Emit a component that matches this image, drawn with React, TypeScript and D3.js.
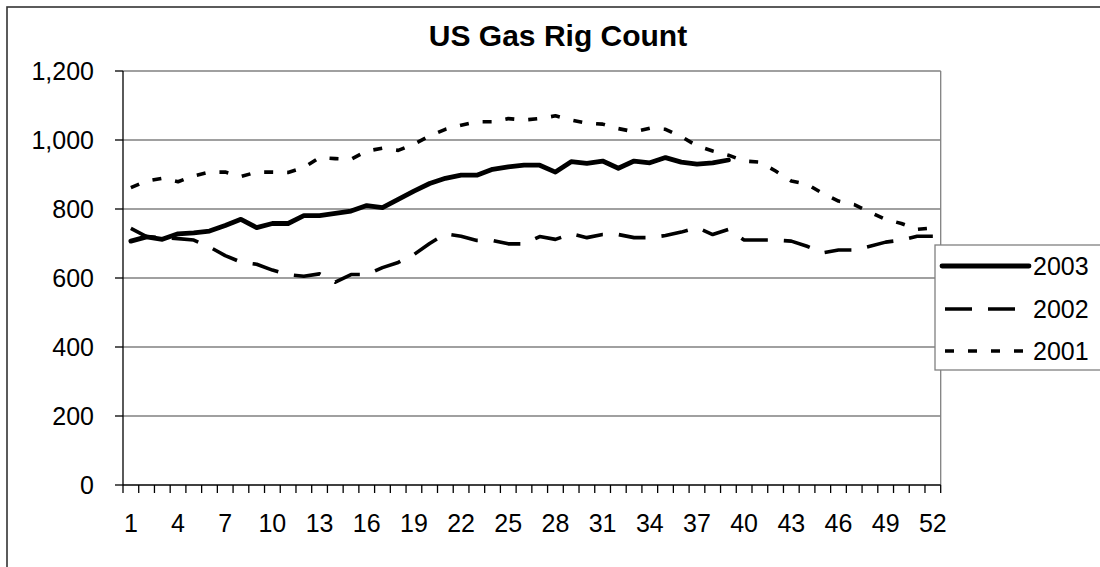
import React, { useEffect, useRef } from "react";
import * as d3 from "d3";

const weeks: number[] = d3.range(1, 53);
const yTicks = [0, 200, 400, 600, 800, 1000, 1200];
const xLabelWeeks = [1, 4, 7, 10, 13, 16, 19, 22, 25, 28, 31, 34, 37, 40, 43, 46, 49, 52];

const gas2003 = [
  707, 719, 712, 728, 731, 736, 752, 770, 746, 758, 758, 781, 781, 787, 794, 810, 804,
  828, 852, 874, 889, 898, 898, 915, 922, 927, 927, 907, 937, 932, 939, 918, 939, 934,
  949, 936, 930, 934, 942,
];
const gas2002 = [
  744, 720, 717, 714, 710, 690, 665, 646, 640, 623, 610, 605, 612, 588, 610, 610, 630,
  645, 668, 700, 728, 721, 709, 709, 699, 699, 720, 712, 728, 717, 726, 726, 717, 717,
  723, 733, 746, 726, 741, 710, 710, 710, 707, 692, 673, 681, 681, 692, 704, 710, 721, 721,
];
const gas2001 = [
  862, 881, 889, 879, 896, 907, 907, 894, 907, 907, 906, 920, 949, 946, 944, 968, 976,
  970, 988, 1012, 1031, 1043, 1053, 1053, 1062, 1058, 1062, 1070, 1058, 1049, 1046, 1033,
  1024, 1034, 1031, 1010, 983, 968, 956, 939, 936, 910, 881, 872, 845, 823, 813, 791, 770,
  758, 741, 745,
];

const seriesNames = ["2003", "2002", "2001"];

export default function App() {
  const ref = useRef<SVGSVGElement>(null);

  useEffect(() => {
    const svg = d3.select(ref.current);
    svg.selectAll("*").remove();
    const font = "'Liberation Sans', Arial, sans-serif";

    const left = 123, right = 940.7, top = 71, bottom = 485;

    const x = d3.scaleBand<number>().domain(weeks).range([left, right]);
    const y = d3.scaleLinear().domain([0, 1200]).range([bottom, top]);
    const cx = (w: number) => (x(w) as number) + x.bandwidth() / 2;

    svg.append("rect").attr("width", 1100).attr("height", 567).attr("fill", "#fff");
    // chart frame
    svg.append("rect")
      .attr("x", 7).attr("y", 7).attr("width", 1120).attr("height", 600)
      .attr("fill", "none").attr("stroke", "#333").attr("stroke-width", 1.6);

    svg.append("text")
      .attr("x", 558).attr("y", 46)
      .attr("text-anchor", "middle")
      .attr("font-family", font).attr("font-weight", "bold").attr("font-size", 30)
      .text("US Gas Rig Count");

    // gridlines
    svg.append("g").selectAll("line")
      .data(yTicks.filter((t) => t > 0))
      .join("line")
      .attr("x1", left).attr("x2", right)
      .attr("y1", (d) => y(d)).attr("y2", (d) => y(d))
      .attr("stroke", "#808080").attr("stroke-width", 1.3);
    svg.append("line")
      .attr("x1", right).attr("x2", right).attr("y1", top).attr("y2", bottom)
      .attr("stroke", "#808080").attr("stroke-width", 1.3);

    // y axis
    svg.append("line")
      .attr("x1", left).attr("x2", left).attr("y1", top).attr("y2", bottom)
      .attr("stroke", "#000").attr("stroke-width", 1.3);
    svg.append("g").selectAll("line")
      .data(yTicks).join("line")
      .attr("x1", left - 8).attr("x2", left)
      .attr("y1", (d) => y(d)).attr("y2", (d) => y(d))
      .attr("stroke", "#000").attr("stroke-width", 1.3);
    svg.append("g").selectAll("text")
      .data(yTicks).join("text")
      .attr("x", 94).attr("y", (d) => y(d))
      .attr("dy", "0.35em")
      .attr("text-anchor", "end")
      .attr("font-family", font).attr("font-size", 25)
      .text((d) => d3.format(",")(d));

    // x axis
    svg.append("line")
      .attr("x1", left).attr("x2", right).attr("y1", bottom).attr("y2", bottom)
      .attr("stroke", "#000").attr("stroke-width", 1.3);
    const bounds = weeks.map((w) => x(w) as number).concat([right]);
    svg.append("g").selectAll("line")
      .data(bounds).join("line")
      .attr("x1", (d) => d).attr("x2", (d) => d)
      .attr("y1", bottom).attr("y2", bottom + 8)
      .attr("stroke", "#000").attr("stroke-width", 1.3);
    svg.append("g").selectAll("text")
      .data(xLabelWeeks).join("text")
      .attr("x", (d) => cx(d)).attr("y", 532)
      .attr("text-anchor", "middle")
      .attr("font-family", font).attr("font-size", 25)
      .text((d) => d);

    const line = d3.line<number>()
      .x((_, i) => cx(weeks[i]))
      .y((d) => y(d));

    const styles = [
      { data: gas2003, width: 4.8, dash: null },
      { data: gas2002, width: 3.6, dash: "27,16" },
      { data: gas2001, width: 3.6, dash: "9,14" },
    ];

    styles.slice().reverse().forEach((s) => {
      svg.append("path")
        .datum(s.data)
        .attr("fill", "none")
        .attr("stroke", "#000")
        .attr("stroke-width", s.width)
        .attr("stroke-linejoin", "round")
        .attr("stroke-linecap", s.dash ? "butt" : "round")
        .attr("stroke-dasharray", s.dash)
        .attr("d", line);
    });

    // legend
    const lg = svg.append("g");
    lg.append("rect")
      .attr("x", 935).attr("y", 245).attr("width", 200).attr("height", 125)
      .attr("fill", "#fff").attr("stroke", "#808080").attr("stroke-width", 1.3);
    const legendY = [266, 309, 351];
    styles.forEach((s, i) => {
      lg.append("line")
        .attr("x1", s.dash ? 945 : 942).attr("x2", 1029)
        .attr("y1", legendY[i]).attr("y2", legendY[i])
        .attr("stroke", "#000").attr("stroke-width", s.width)
        .attr("stroke-linecap", s.dash ? "butt" : "round")
        .attr("stroke-dasharray", s.dash);
      lg.append("text")
        .attr("x", 1033).attr("y", legendY[i]).attr("dy", "0.35em")
        .attr("font-family", font).attr("font-size", 25)
        .text(seriesNames[i]);
    });
  }, []);

  return (
    <div style={{ position: "fixed", left: 0, top: 0 }}>
      <svg ref={ref} width={1100} height={567} style={{ display: "block" }} />
    </div>
  );
}
